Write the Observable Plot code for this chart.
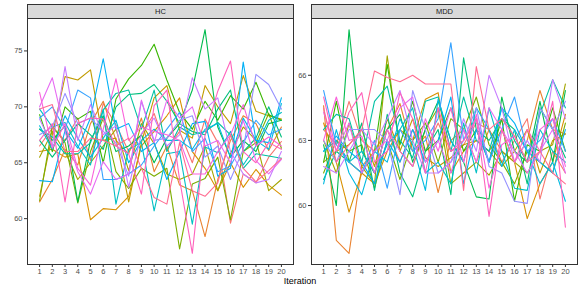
<!DOCTYPE html>
<html>
<head>
<meta charset="utf-8">
<script src="https://cdn.jsdelivr.net/npm/d3@7"></script>
<script src="https://cdn.jsdelivr.net/npm/@observablehq/plot@0.6"></script>
<style>
  html, body { margin: 0; padding: 0; background: #fff; }
  #wrap { position: relative; width: 581px; height: 291px; font-family: "Liberation Sans", Arial, sans-serif; overflow: hidden; }
  .plot { position: absolute; top: 0; }
  .plot svg { overflow: visible; background: transparent; }
  .strip { position: absolute; top: 4px; height: 13px; background: #d9d9d9; border: 1px solid #333; border-bottom: none;
           font-size: 7.5px; color: #1a1a1a; text-align: center; line-height: 14px; box-sizing: content-box; }
  #xlab { position: absolute; top: 276px; left: 0; width: 600px; text-align: center; font-size: 9px; color: #000; }
</style>
</head>
<body>
<div id="wrap">
  <div id="p1" class="plot" style="left:0px"></div>
  <div id="p2" class="plot" style="left:290px"></div>
  <div class="strip" style="left:27px; width:265px;">HC</div>
  <div class="strip" style="left:311px; width:265px;">MDD</div>
  <div id="xlab">Iteration</div>
</div>
<script>
const iterations = [1,2,3,4,5,6,7,8,9,10,11,12,13,14,15,16,17,18,19,20];
const seriesNames = ["s1","s2","s3","s4","s5","s6","s7","s8","s9","s10","s11","s12","s13","s14","s15","s16","s17","s18","s19","s20"];
const palette = ["#F8766D","#EA8331","#D89000","#C09B00","#A3A500","#7CAE00","#39B600","#00BB4E","#00BF7D","#00C1A3",
                 "#00BFC4","#00BAE0","#00B0F6","#35A2FF","#9590FF","#C77CFF","#E76BF3","#FA62DB","#FF62BC","#FF6C91"];

const hcValues = [
  [66.5,68.1,67.0,69.0,65.2,70.3,68.4,66.0,67.5,69.4,66.2,67.8,65.0,68.9,66.8,59.6,64.0,63.2,65.5,66.9],
  [61.5,63.5,66.2,64.8,68.5,70.5,67.0,65.8,69.0,64.2,66.5,63.0,62.5,58.4,63.5,67.0,69.2,68.5,66.1,68.2],
  [66.0,66.2,65.5,65.8,59.9,60.9,60.8,62.0,66.5,67.8,69.2,70.8,66.0,64.5,62.5,65.0,62.8,64.4,63.0,62.1],
  [62.0,67.5,72.7,72.4,73.3,67.0,67.2,61.5,66.8,70.8,71.9,67.9,67.2,71.9,70.0,68.5,72.8,69.6,69.2,68.9],
  [65.5,67.8,66.0,63.5,65.0,66.5,68.0,64.3,68.5,66.7,64.0,63.5,64.0,66.5,62.5,65.8,68.2,67.0,62.5,63.5],
  [61.6,68.3,66.8,61.4,66.0,69.0,64.2,62.7,64.5,63.8,64.5,57.3,63.1,63.6,65.5,59.9,66.0,66.8,69.4,66.3],
  [69.3,66.0,70.0,68.9,69.6,65.0,70.7,72.5,73.7,75.6,72.4,69.5,68.0,70.5,68.8,71.0,69.8,72.2,69.3,68.8],
  [68.0,67.0,68.3,61.5,67.0,69.2,66.0,66.5,67.5,65.0,67.2,68.5,71.5,76.9,68.2,65.5,67.0,66.0,68.5,68.8],
  [67.0,65.5,67.0,68.5,67.5,66.2,70.0,71.1,71.2,72.0,70.5,68.5,67.8,67.5,69.8,71.5,66.0,67.2,70.0,67.3],
  [68.0,67.3,65.8,65.8,66.8,69.7,71.2,71.5,68.0,71.5,66.0,68.2,67.5,67.8,68.6,67.5,64.5,65.8,65.6,65.4],
  [69.8,68.2,68.6,66.5,64.8,69.8,61.3,66.2,66.8,60.7,65.8,66.0,59.5,66.4,65.9,67.8,64.8,66.5,68.8,69.5],
  [68.3,66.2,69.2,67.2,65.5,67.2,68.8,65.0,67.0,68.0,67.0,67.0,66.2,68.0,68.5,65.5,69.0,67.0,66.2,70.3],
  [63.4,63.3,67.9,66.3,69.0,74.3,68.0,68.5,66.0,66.8,63.5,66.0,68.5,68.7,63.8,64.5,74.0,67.0,66.8,70.8],
  [69.0,70.0,68.0,71.5,70.8,63.5,63.5,64.0,64.8,66.5,68.0,69.5,66.0,67.2,64.2,64.7,66.8,68.8,67.5,68.0],
  [67.5,68.2,71.2,68.5,69.0,67.8,66.8,63.8,70.5,67.0,67.2,68.8,69.2,65.5,66.5,63.5,66.2,72.9,72.0,69.8],
  [68.9,66.5,73.6,67.0,70.2,67.5,68.3,62.8,67.6,69.0,66.5,67.5,72.6,69.8,70.8,66.0,64.0,63.2,63.5,66.0],
  [70.0,72.6,67.8,64.2,62.2,65.1,63.5,64.0,70.6,66.8,70.6,69.0,70.0,66.5,67.0,65.0,68.8,65.2,64.0,65.3],
  [71.3,66.3,68.5,64.5,63.0,68.0,72.5,67.0,68.2,67.8,67.5,67.0,64.0,64.0,66.0,67.5,70.2,66.5,67.3,66.5],
  [67.0,68.5,61.5,68.5,69.0,68.9,66.5,65.8,62.2,70.1,71.5,63.5,56.9,67.5,71.4,74.1,66.0,65.0,66.8,66.2],
  [69.8,70.2,66.0,66.0,67.2,67.0,66.5,67.2,64.5,61.9,61.3,66.8,62.5,62.0,63.2,67.5,64.5,63.3,64.3,65.4]
];

const mddValues = [
  [63.5,62.8,64.8,63.0,62.5,63.5,62.0,63.5,62.5,63.8,62.5,62.8,63.8,63.5,62.0,63.0,64.0,60.3,62.5,61.5],
  [64.6,58.4,57.8,61.8,62.5,63.5,64.7,62.5,63.2,60.6,63.0,63.5,62.0,63.5,62.5,62.0,63.0,65.3,63.5,63.3],
  [63.8,62.0,59.7,61.5,61.0,62.5,63.5,63.0,64.9,65.2,61.5,62.5,63.0,62.5,63.5,62.0,59.4,61.0,62.0,64.2],
  [62.0,62.5,62.8,63.5,61.8,64.0,62.5,64.0,62.2,61.8,62.2,62.8,63.0,62.5,61.8,62.5,63.5,61.5,63.0,63.3],
  [63.0,61.5,63.8,61.8,61.0,66.9,62.5,61.8,63.5,64.5,61.0,61.5,62.0,61.4,62.5,62.0,61.5,62.5,62.8,65.6],
  [61.5,63.0,62.5,62.8,60.8,63.0,61.2,63.0,63.8,62.0,64.0,63.5,65.0,62.8,62.0,61.0,62.5,62.0,61.5,63.8],
  [62.0,64.8,62.0,61.5,62.5,66.5,62.8,64.8,62.5,63.0,64.5,62.5,63.5,62.0,64.0,60.2,62.8,62.5,64.5,62.5],
  [62.8,60.0,68.1,62.5,61.5,63.5,64.2,62.0,63.5,64.8,63.0,62.0,60.4,60.3,65.0,62.5,62.0,64.8,62.0,65.3],
  [61.2,62.5,62.0,63.8,60.7,64.2,61.5,60.4,62.5,63.5,60.5,66.8,63.5,63.0,64.0,63.5,61.0,64.5,63.5,62.2],
  [63.5,64.2,64.0,62.0,64.8,65.5,63.0,62.2,64.8,65.0,62.5,65.0,63.0,62.5,64.5,63.0,62.0,64.2,65.8,64.5],
  [62.5,63.0,62.0,62.5,61.5,62.8,63.5,64.5,61.5,62.0,61.0,63.8,61.5,64.5,62.5,60.8,60.7,63.5,62.5,62.0],
  [61.0,63.5,61.5,60.5,62.5,62.0,64.0,62.8,60.7,64.9,63.0,62.0,64.5,63.5,61.8,63.5,62.5,61.0,62.0,60.2],
  [62.5,63.2,62.5,62.0,61.0,63.0,62.0,63.5,62.0,63.0,65.0,61.0,63.5,62.0,64.5,63.8,62.5,62.0,61.5,63.5],
  [65.3,62.8,62.0,61.5,63.0,60.8,63.5,62.5,63.0,64.0,67.5,63.0,64.0,62.0,63.5,65.0,62.5,63.0,64.0,62.5],
  [63.0,62.0,63.5,63.5,63.5,63.0,60.5,65.3,63.5,61.5,62.0,63.0,64.5,61.8,61.5,60.2,60.1,64.5,63.5,64.8],
  [61.8,61.5,62.5,63.5,62.8,64.0,65.3,63.0,61.5,61.5,62.0,64.0,62.5,66.0,64.5,62.0,63.0,62.0,65.8,64.0],
  [64.3,62.5,63.8,61.5,62.5,63.0,64.5,65.0,62.0,63.0,61.5,63.5,62.0,64.5,63.5,62.5,61.5,62.5,63.5,61.5],
  [63.0,65.0,63.0,63.2,61.5,63.5,62.5,61.8,64.0,62.5,64.5,62.0,64.2,60.8,62.8,63.2,62.0,63.5,64.0,61.8],
  [65.0,62.5,64.3,65.2,62.0,62.5,65.2,64.0,61.5,64.5,62.5,63.0,64.0,59.5,63.5,62.0,63.5,62.5,64.8,59.0],
  [64.5,62.0,62.8,63.5,66.2,65.9,65.7,66.0,65.6,65.6,65.6,60.7,66.4,63.5,64.0,63.2,62.0,62.5,61.5,61.0]
];

const hcTicks = [60, 65, 70, 75];
const mddTicks = [60, 63, 66];

function toRows(values) {
  const rows = [];
  values.forEach((vals, i) => vals.forEach((v, j) => rows.push({series: seriesNames[i], iteration: iterations[j], value: v})));
  return rows;
}
function expand(ext, f) { const r = ext[1] - ext[0]; return [ext[0] - r * f, ext[1] + r * f]; }

function panel(values, yTicks, opts) {
  const rows = toRows(values);
  const yDom = expand(d3.extent(rows, d => d.value), 0.05);
  const xDom = expand(d3.extent(iterations), 0.05);
  return Plot.plot({
    width: opts.width, height: 291,
    marginLeft: opts.ml, marginRight: opts.mr, marginTop: 18, marginBottom: 27,
    style: {fontFamily: "Liberation Sans, Arial, sans-serif", fontSize: "7.5px", background: "transparent", color: "#4d4d4d"},
    x: {domain: xDom, label: null},
    y: {domain: yDom, label: null},
    color: {domain: seriesNames, range: palette},
    marks: [
      Plot.line(rows, {x: "iteration", y: "value", z: "series", stroke: "series", strokeWidth: 1.1}),
      Plot.axisX({ticks: iterations, tickFormat: d => d, tickSize: 3, tickPadding: 1, stroke: "#333", fill: "#4d4d4d", label: null}),
      Plot.axisY({ticks: yTicks, tickSize: 3, tickPadding: 2, stroke: "#333", fill: "#4d4d4d", label: null}),
      Plot.frame({stroke: "#333", strokeWidth: 1})
    ]
  });
}

document.getElementById("p1").appendChild(panel(hcValues, hcTicks, {width: 300, ml: 27, mr: 7}));
document.getElementById("p2").appendChild(panel(mddValues, mddTicks, {width: 291, ml: 21, mr: 4}));
</script>
</body>
</html>
